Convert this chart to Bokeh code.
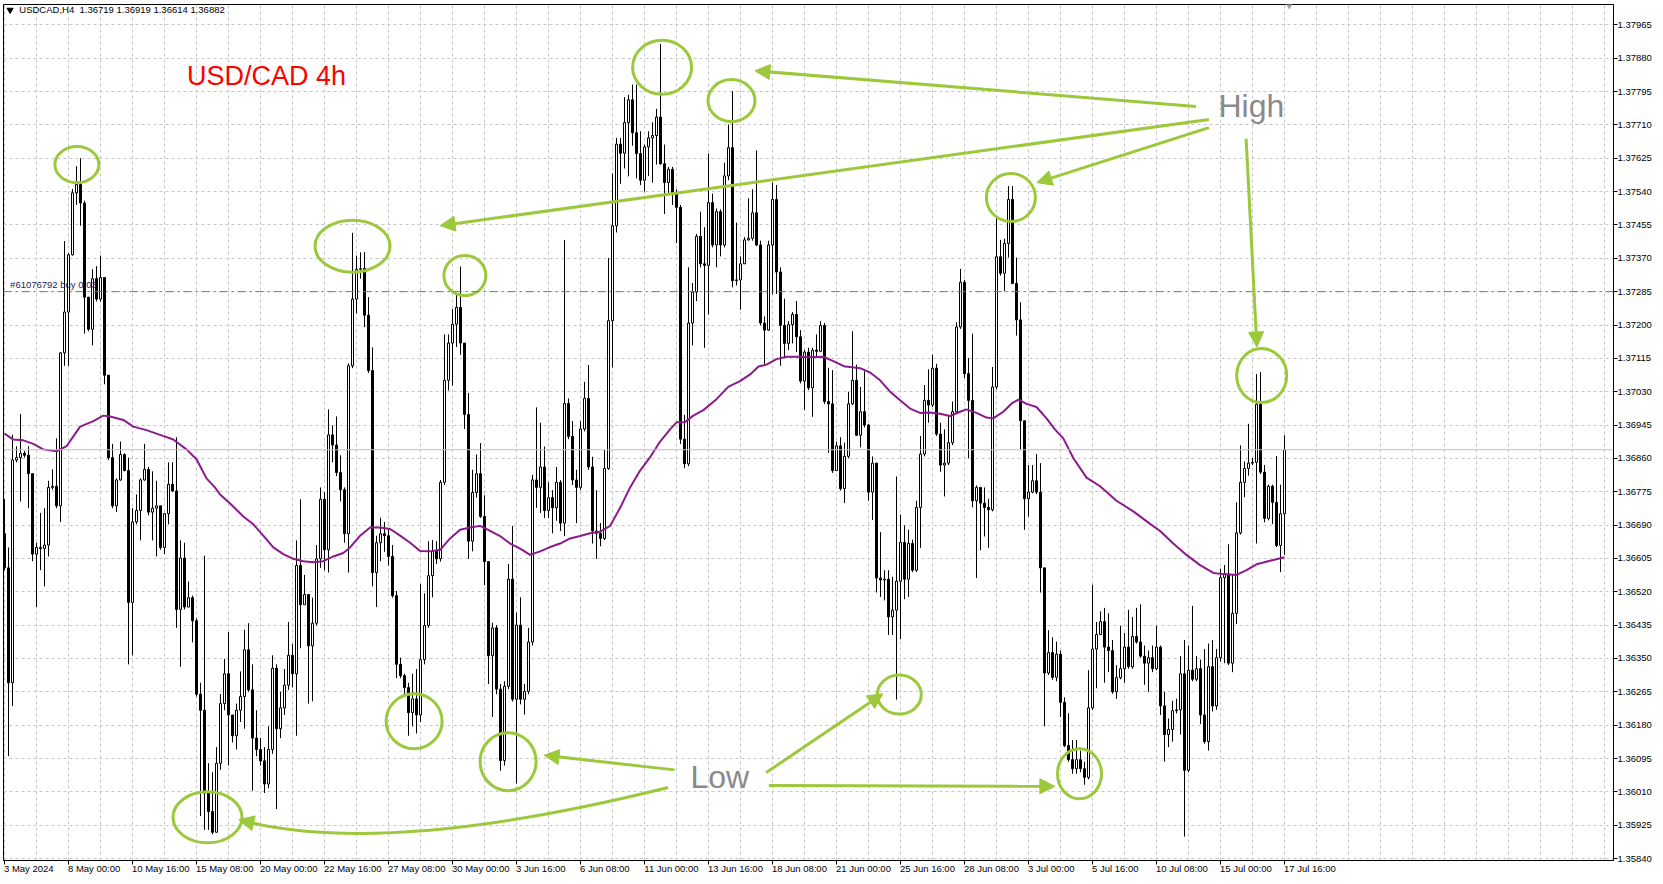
from bokeh.plotting import figure
from bokeh.models import (Range1d, FixedTicker, PrintfTickFormatter, Span, Label,
                          Arrow, NormalHead, LinearAxis)
from bokeh.embed import file_html
from bokeh.resources import INLINE

# ---------------- data (USDCAD H4) ----------------
first_open = 1.36668

closes = [
    1.36581, 1.36288, 1.36856, 1.36862, 1.36873, 1.36868, 1.36821, 1.36616, 1.36633, 1.36630,
    1.36639, 1.36786, 1.36789, 1.36739, 1.37129, 1.37233, 1.37379, 1.37537, 1.37558, 1.37511,
    1.37271, 1.37189, 1.37318, 1.37266, 1.37321, 1.37072, 1.36862, 1.36739, 1.36805, 1.36870,
    1.36829, 1.36493, 1.36698, 1.36727, 1.36805, 1.36832, 1.36723, 1.36733, 1.36739, 1.36633,
    1.36719, 1.36794, 1.36777, 1.36475, 1.36606, 1.36481, 1.36505, 1.36446, 1.36259, 1.36218,
    1.36007, 1.35960, 1.35907, 1.36083, 1.36235, 1.36311, 1.36206, 1.36153, 1.36218, 1.36253,
    1.36372, 1.36270, 1.36147, 1.36118, 1.36089, 1.36030, 1.36118, 1.36325, 1.36171, 1.36224,
    1.36282, 1.36358, 1.36311, 1.36587, 1.36487, 1.36513, 1.36382, 1.36440, 1.36604, 1.36756,
    1.36627, 1.36920, 1.36894, 1.36824, 1.36780, 1.36668, 1.37096, 1.37266, 1.37342, 1.37344,
    1.37225, 1.37084, 1.36569, 1.36645, 1.36668, 1.36663, 1.36610, 1.36510, 1.36335, 1.36306,
    1.36276, 1.36212, 1.36247, 1.36206, 1.36347, 1.36434, 1.36561, 1.36623, 1.36604, 1.36799,
    1.37059, 1.37154, 1.37202, 1.37245, 1.37154, 1.36972, 1.36649, 1.36773, 1.36821, 1.36712,
    1.36597, 1.36357, 1.36428, 1.36272, 1.36090, 1.36279, 1.36552, 1.36246, 1.36435, 1.36246,
    1.36266, 1.36392, 1.36805, 1.36786, 1.36838, 1.36727, 1.36760, 1.36734, 1.36799, 1.36695,
    1.37000, 1.36916, 1.36805, 1.36786, 1.36935, 1.37013, 1.36838, 1.36675, 1.36669, 1.36656,
    1.36834, 1.37211, 1.37453, 1.37661, 1.37638, 1.37716, 1.37774, 1.37690, 1.37637, 1.37569,
    1.37654, 1.37677, 1.37683, 1.37730, 1.37611, 1.37563, 1.37597, 1.37535, 1.37500, 1.36909,
    1.36846, 1.37205, 1.37284, 1.37426, 1.37356, 1.37352, 1.37512, 1.37404, 1.37489, 1.37404,
    1.37580, 1.37652, 1.37313, 1.37315, 1.37356, 1.37417, 1.37421, 1.37486, 1.37404, 1.37205,
    1.37187, 1.37404, 1.37520, 1.37335, 1.37199, 1.37153, 1.37201, 1.37227, 1.37170, 1.37057,
    1.37131, 1.37040, 1.37136, 1.37133, 1.37199, 1.37005, 1.36999, 1.36829, 1.36892, 1.36783,
    1.36865, 1.36999, 1.37059, 1.36919, 1.36979, 1.36945, 1.36774, 1.36848, 1.36555, 1.36550,
    1.36552, 1.36456, 1.36473, 1.36547, 1.36646, 1.36552, 1.36643, 1.36575, 1.36735, 1.36871,
    1.37008, 1.36996, 1.37090, 1.36922, 1.36843, 1.36848, 1.36900, 1.36979, 1.37195, 1.37309,
    1.37076, 1.37008, 1.36752, 1.36786, 1.36746, 1.36735, 1.36729, 1.37042, 1.37374, 1.37332,
    1.37408, 1.37520, 1.37306, 1.37213, 1.36956, 1.36757, 1.36774, 1.36803, 1.36774, 1.36581,
    1.36313, 1.36365, 1.36302, 1.36361, 1.36238, 1.36128, 1.36092, 1.36069, 1.36092, 1.36069,
    1.36047, 1.36224, 1.36374, 1.36411, 1.36444, 1.36379, 1.36370, 1.36265, 1.36301, 1.36324,
    1.36379, 1.36329, 1.36406, 1.36392, 1.36356, 1.36338, 1.36352, 1.36324, 1.36379, 1.36229,
    1.36156, 1.36169, 1.36217, 1.36219, 1.36311, 1.36065, 1.36320, 1.36297, 1.36324, 1.36206,
    1.36138, 1.36329, 1.36229, 1.36352, 1.36556, 1.36565, 1.36338, 1.36465, 1.36670, 1.36799,
    1.36834, 1.36848, 1.36850, 1.36998, 1.36825, 1.36707, 1.36789, 1.36748, 1.36638, 1.36719,
    1.36882,
]

highs = [
    1.36756, 1.36633, 1.36920, 1.36891, 1.36973, 1.36879, 1.36891, 1.36809, 1.36645, 1.36721,
    1.36733, 1.36803, 1.36832, 1.36911, 1.37131, 1.37414, 1.37383, 1.37547, 1.37605, 1.37625,
    1.37517, 1.37271, 1.37342, 1.37350, 1.37377, 1.37318, 1.36967, 1.36897, 1.36809, 1.36903,
    1.36873, 1.36862, 1.36733, 1.36768, 1.36809, 1.36897, 1.36838, 1.36827, 1.36803, 1.36739,
    1.36721, 1.36850, 1.36850, 1.36914, 1.36651, 1.36645, 1.36546, 1.36510, 1.36452, 1.36288,
    1.36612, 1.36083, 1.36060, 1.36124, 1.36259, 1.36349, 1.36417, 1.36206, 1.36235, 1.36317,
    1.36423, 1.36440, 1.36335, 1.36218, 1.36147, 1.36124, 1.36177, 1.36358, 1.36335, 1.36265,
    1.36323, 1.36443, 1.36387, 1.36651, 1.36756, 1.36563, 1.36487, 1.36505, 1.36639, 1.36786,
    1.36774, 1.36985, 1.36944, 1.36967, 1.36868, 1.36786, 1.37102, 1.37435, 1.37377, 1.37385,
    1.37386, 1.37271, 1.37143, 1.36663, 1.36709, 1.36698, 1.36680, 1.36639, 1.36522, 1.36352,
    1.36311, 1.36288, 1.36311, 1.36323, 1.36540, 1.36516, 1.36649, 1.36652, 1.36649, 1.36805,
    1.37176, 1.37176, 1.37241, 1.37280, 1.37349, 1.37150, 1.37027, 1.36831, 1.36870, 1.36899,
    1.36766, 1.36597, 1.36441, 1.36435, 1.36285, 1.36292, 1.36591, 1.36688, 1.36467, 1.36506,
    1.36285, 1.36428, 1.36818, 1.36990, 1.36951, 1.36890, 1.36799, 1.36779, 1.36838, 1.36805,
    1.37417, 1.37013, 1.36955, 1.36831, 1.36955, 1.37055, 1.37098, 1.36864, 1.36779, 1.36695,
    1.36881, 1.37371, 1.37586, 1.37677, 1.37677, 1.37781, 1.37787, 1.37813, 1.37813, 1.37694,
    1.37660, 1.37694, 1.37717, 1.37751, 1.37916, 1.37660, 1.37603, 1.37603, 1.37546, 1.37506,
    1.36971, 1.37347, 1.37307, 1.37432, 1.37489, 1.37449, 1.37637, 1.37535, 1.37497, 1.37495,
    1.37614, 1.37711, 1.37796, 1.37461, 1.37375, 1.37424, 1.37523, 1.37546, 1.37645, 1.37415,
    1.37222, 1.37415, 1.37563, 1.37557, 1.37347, 1.37267, 1.37210, 1.37233, 1.37261, 1.37187,
    1.37136, 1.37142, 1.37142, 1.37176, 1.37210, 1.37205, 1.37091, 1.37085, 1.36903, 1.36914,
    1.36900, 1.37030, 1.37184, 1.37099, 1.37042, 1.37082, 1.36948, 1.36865, 1.36848, 1.36672,
    1.36575, 1.36575, 1.36558, 1.36814, 1.36717, 1.36689, 1.36678, 1.36653, 1.36752, 1.36917,
    1.37047, 1.37087, 1.37124, 1.37101, 1.36951, 1.36934, 1.36968, 1.37005, 1.37207, 1.37343,
    1.37315, 1.37116, 1.37178, 1.36791, 1.36780, 1.36786, 1.36757, 1.37093, 1.37474, 1.37417,
    1.37420, 1.37554, 1.37554, 1.37372, 1.37258, 1.36956, 1.36843, 1.36843, 1.36871, 1.36848,
    1.36581, 1.36422, 1.36404, 1.36393, 1.36370, 1.36251, 1.36210, 1.36142, 1.36142, 1.36115,
    1.36087, 1.36320, 1.36538, 1.36443, 1.36470, 1.36479, 1.36465, 1.36397, 1.36333, 1.36433,
    1.36415, 1.36474, 1.36456, 1.36479, 1.36488, 1.36383, 1.36370, 1.36383, 1.36433, 1.36383,
    1.36265, 1.36197, 1.36242, 1.36247, 1.36356, 1.36397, 1.36383, 1.36484, 1.36356, 1.36347,
    1.36374, 1.36388, 1.36397, 1.36374, 1.36579, 1.36588, 1.36641, 1.36565, 1.36748, 1.36893,
    1.36852, 1.36948, 1.36861, 1.37075, 1.37080, 1.36843, 1.36793, 1.36793, 1.36866, 1.36793,
    1.36919,
]

lows = [
    1.36575, 1.36101, 1.36229, 1.36850, 1.36750, 1.36862, 1.36733, 1.36598, 1.36481, 1.36575,
    1.36534, 1.36610, 1.36780, 1.36733, 1.36698, 1.37096, 1.37096, 1.37377, 1.37506, 1.37453,
    1.37178, 1.37184, 1.37148, 1.37260, 1.37260, 1.37049, 1.36856, 1.36733, 1.36723, 1.36803,
    1.36827, 1.36335, 1.36358, 1.36692, 1.36651, 1.36803, 1.36715, 1.36651, 1.36610, 1.36627,
    1.36616, 1.36692, 1.36774, 1.36428, 1.36329, 1.36475, 1.36481, 1.36391, 1.36253, 1.35948,
    1.35913, 1.35913, 1.35902, 1.35907, 1.36066, 1.36218, 1.36077, 1.36136, 1.36118, 1.36188,
    1.36171, 1.36265, 1.36013, 1.36101, 1.36077, 1.36007, 1.36019, 1.36107, 1.35966, 1.36147,
    1.36206, 1.36270, 1.36276, 1.36153, 1.36376, 1.36487, 1.36235, 1.36241, 1.36434, 1.36581,
    1.36575, 1.36569, 1.36850, 1.36815, 1.36750, 1.36645, 1.36569, 1.37090, 1.37230, 1.37318,
    1.37195, 1.37078, 1.36534, 1.36481, 1.36598, 1.36622, 1.36587, 1.36505, 1.36300, 1.36300,
    1.36253, 1.36153, 1.36177, 1.36159, 1.36188, 1.36335, 1.36428, 1.36506, 1.36591, 1.36597,
    1.36792, 1.37033, 1.37046, 1.37144, 1.37124, 1.36935, 1.36604, 1.36623, 1.36760, 1.36708,
    1.36537, 1.36285, 1.36201, 1.36259, 1.36064, 1.36077, 1.36272, 1.36240, 1.36031, 1.36233,
    1.36207, 1.36259, 1.36383, 1.36734, 1.36721, 1.36708, 1.36708, 1.36669, 1.36701, 1.36675,
    1.36662, 1.36909, 1.36792, 1.36695, 1.36779, 1.36929, 1.36831, 1.36643, 1.36604, 1.36636,
    1.36652, 1.36831, 1.37092, 1.37436, 1.37560, 1.37599, 1.37579, 1.37657, 1.37574, 1.37557,
    1.37540, 1.37580, 1.37563, 1.37609, 1.37609, 1.37483, 1.37535, 1.37506, 1.37409, 1.36897,
    1.36835, 1.36840, 1.37148, 1.37261, 1.37347, 1.37142, 1.37227, 1.37398, 1.37347, 1.37375,
    1.37398, 1.37569, 1.37296, 1.37301, 1.37239, 1.37358, 1.37415, 1.37415, 1.37401, 1.37199,
    1.37096, 1.37185, 1.37279, 1.37279, 1.37096, 1.37119, 1.37136, 1.37153, 1.37131, 1.37051,
    1.36983, 1.37034, 1.36966, 1.37119, 1.37131, 1.36999, 1.36874, 1.36823, 1.36829, 1.36778,
    1.36746, 1.36860, 1.36996, 1.36917, 1.36888, 1.36939, 1.36752, 1.36703, 1.36518, 1.36507,
    1.36498, 1.36410, 1.36410, 1.36245, 1.36399, 1.36501, 1.36507, 1.36570, 1.36570, 1.36632,
    1.36865, 1.36951, 1.36991, 1.36917, 1.36826, 1.36763, 1.36843, 1.36894, 1.36974, 1.37190,
    1.37065, 1.36860, 1.36735, 1.36555, 1.36626, 1.36661, 1.36632, 1.36725, 1.37036, 1.37326,
    1.37286, 1.37372, 1.37304, 1.37173, 1.36882, 1.36678, 1.36712, 1.36771, 1.36769, 1.36518,
    1.36177, 1.36308, 1.36296, 1.36292, 1.36201, 1.36124, 1.36087, 1.36056, 1.36056, 1.36060,
    1.36028, 1.36042, 1.36219, 1.36274, 1.36438, 1.36288, 1.36315, 1.36260, 1.36247, 1.36297,
    1.36288, 1.36324, 1.36324, 1.36388, 1.36352, 1.36283, 1.36265, 1.36315, 1.36320, 1.36206,
    1.36087, 1.36124, 1.36138, 1.36210, 1.36156, 1.35896, 1.36060, 1.36292, 1.36292, 1.36183,
    1.36133, 1.36115, 1.36215, 1.36219, 1.36342, 1.36338, 1.36333, 1.36315, 1.36438, 1.36666,
    1.36761, 1.36816, 1.36843, 1.36643, 1.36820, 1.36697, 1.36702, 1.36693, 1.36634, 1.36570,
    1.36614,
]

# moving average (purple line) sampled along the chart: bar position, value
ma_bars = [0, 2.2, 4.7, 7.2, 9.7, 13, 15.5, 18.9, 22.2, 24.7, 26.4, 29.7, 32.2, 35.5, 38.9,
           42.2, 45.5, 48, 50.5, 52.6, 53.9, 56.4, 59.7, 62.2, 64.7, 67.2, 69.7, 72.2, 74.7,
           77.2, 79.7, 82.2, 84.7, 86.4, 88.9, 91.4, 93.9, 96.4, 98.9, 101.4, 103.9, 106.4,
           108.9, 111.4, 113.9, 116.4, 118.9, 121.4, 123.9, 126.4, 128.9, 131.4, 133.9, 136.4,
           138.9, 141.4, 143.9, 146.4, 148.9, 151.4, 153.9, 156.4, 158.9, 161.4, 163.9, 166.4,
           168, 170.1, 172.2, 174.7, 178, 181, 183.9, 186.4, 188.5, 190.5, 193, 195.5, 198,
           201.4, 204.7, 207.2, 210.1, 211.4, 213.9, 216.4, 218.9, 221.4, 223.9, 226.4, 228.9,
           231.4, 233.9, 236.4, 238.9, 240.5, 243, 245.5, 247.2, 249.7, 251.8, 253.5, 255.5,
           258, 260.5, 262.6, 264.7, 267.2, 270.5, 273.9, 278, 282.2, 286.4, 288.9, 292.2,
           295.5, 298.9, 302.2, 304.7, 308, 310.5, 313, 316.4, 320]
ma_vals = [1.36923, 1.36908, 1.36906, 1.36897, 1.36883, 1.36878, 1.36891, 1.36941, 1.36955,
           1.36969, 1.36967, 1.36958, 1.36941, 1.36932, 1.36920, 1.36908, 1.36883, 1.36858,
           1.36809, 1.36786, 1.36768, 1.36745, 1.36712, 1.36692, 1.36663, 1.36633, 1.36616,
           1.36604, 1.36598, 1.36595, 1.36598, 1.36610, 1.36619, 1.36633, 1.36663, 1.36684,
           1.36684, 1.36680, 1.36663, 1.36645, 1.36624, 1.36623, 1.36627, 1.36656, 1.36678,
           1.36684, 1.36688, 1.36675, 1.36662, 1.36643, 1.36630, 1.36614, 1.36623, 1.36634,
           1.36643, 1.36656, 1.36662, 1.36669, 1.36673, 1.36688, 1.36734, 1.36786, 1.36829,
           1.36863, 1.36903, 1.36934, 1.36952, 1.36952, 1.36969, 1.36983, 1.37011, 1.37043,
           1.37057, 1.37074, 1.37094, 1.37099, 1.37113, 1.37119, 1.37119, 1.37118, 1.37119,
           1.37108, 1.37094, 1.37093, 1.37090, 1.37079, 1.37059, 1.37030, 1.37008, 1.36987,
           1.36976, 1.36977, 1.36974, 1.36968, 1.36979, 1.36985, 1.36976, 1.36964, 1.36962,
           1.36979, 1.37000, 1.37010, 1.36999, 1.36991, 1.36962, 1.36934, 1.36911, 1.36861,
           1.36811, 1.36789, 1.36752, 1.36725, 1.36693, 1.36675, 1.36643, 1.36614, 1.36588,
           1.36568, 1.36565, 1.36563, 1.36575, 1.36590, 1.36599, 1.36608]

price_ticks = [1.35840, 1.35925, 1.36010, 1.36095, 1.36180, 1.36265, 1.36350, 1.36435,
               1.36520, 1.36605, 1.36690, 1.36775, 1.36860, 1.36945, 1.37030, 1.37115,
               1.37200, 1.37285, 1.37370, 1.37455, 1.37540, 1.37625, 1.37710, 1.37795,
               1.37880, 1.37965]

time_tick_bars = [0, 16, 32, 48, 64, 80, 96, 112, 128, 144, 160, 176, 192, 208, 224, 240,
                  256, 272, 288, 304, 320]
time_labels = ["3 May 2024", "8 May 00:00", "10 May 16:00", "15 May 08:00", "20 May 00:00",
               "22 May 16:00", "27 May 08:00", "30 May 00:00", "3 Jun 16:00", "6 Jun 08:00",
               "11 Jun 00:00", "13 Jun 16:00", "18 Jun 08:00", "21 Jun 00:00", "25 Jun 16:00",
               "28 Jun 08:00", "3 Jul 00:00", "5 Jul 16:00", "10 Jul 08:00", "15 Jul 00:00",
               "17 Jul 16:00"]
grid_bars = list(range(0, 401, 8))

order_price = 1.37285
last_price = 1.36882
header = "USDCAD,H4 \u00a01.36719 1.36919 1.36614 1.36882"

# annotation marks (bar position, price) --------------------------------
circle_x = [18.1, 87.0, 115.1, 164.4, 181.75, 251.6, 314.3, 50.75, 102.4, 125.9, 223.7, 268.75]
circle_y = [1.37609, 1.37401, 1.37326, 1.37857, 1.37772, 1.37525, 1.37071,
            1.35945, 1.36190, 1.36087, 1.36258, 1.36056]
circle_w = [44, 75, 42, 59, 47, 49, 50, 69, 56, 56, 44, 44]
circle_h = [36, 52, 40, 54, 42, 48, 54, 51, 55, 58, 39, 50]

# straight arrows: (x0, y0, x1, y1)
arrows = [
    (297.9, 1.37757, 187.6, 1.37848),
    (301.1, 1.37724, 108.9, 1.37453),
    (301.1, 1.37703, 258.1, 1.37563),
    (310.4, 1.37675, 313.1, 1.37144),
    (190.4, 1.36059, 219.6, 1.36260),
    (167.5, 1.36066, 134.9, 1.36103),
    (191.1, 1.36026, 262.6, 1.36024),
]

# ---------------- figure ----------------
FONT = "Liberation Sans"
FW, FH = 1610, 856
BAR_PX = 4.0
X0 = -0.25
p = figure(frame_width=FW, frame_height=FH,
           x_range=Range1d(X0, X0 + FW / BAR_PX),
           y_range=Range1d(1.35835, 1.38017),
           y_axis_location="right", toolbar_location=None, output_backend="svg",
           min_border_left=3, min_border_top=4, min_border_bottom=24, min_border_right=50,
           background_fill_color="white", border_fill_color="white",
           outline_line_color="black", outline_line_width=1)

# grid
p.xgrid.ticker = FixedTicker(ticks=grid_bars)
for g in (p.xgrid, p.ygrid):
    g.grid_line_color = "#C6C6C6"
    g.grid_line_dash = "3 3"
    g.grid_line_width = 1

# price axis (right)
p.yaxis.ticker = FixedTicker(ticks=price_ticks)
p.yaxis.formatter = PrintfTickFormatter(format="%.5f")
p.yaxis.major_tick_out = 4
p.yaxis.major_tick_in = 0
p.yaxis.minor_tick_line_color = None
p.yaxis.axis_line_color = "black"
p.yaxis.major_tick_line_color = "black"
p.yaxis.major_label_text_font = FONT
p.yaxis.major_label_text_font_size = "9.5px"
p.yaxis.major_label_text_color = "black"
p.yaxis.major_label_standoff = 0

# time axis: tick marks at the bar positions ...
p.xaxis.ticker = FixedTicker(ticks=time_tick_bars, minor_ticks=[])
p.xaxis.major_tick_out = 4
p.xaxis.major_tick_in = 0
p.xaxis.minor_tick_line_color = None
p.xaxis.axis_line_color = "black"
p.xaxis.major_tick_line_color = "black"
p.xaxis.major_label_standoff = 0
p.xaxis.major_label_text_font_size = "1px"
p.xaxis.major_label_text_color = None

# ... and labels written to the right of each tick (MetaTrader style)
EM = {"0": .556, "1": .556, "2": .556, "3": .556, "4": .556, "5": .556, "6": .556,
      "7": .556, "8": .556, "9": .556, " ": .278, ":": .278, "M": .833, "a": .556,
      "y": .5, "J": .5, "u": .556, "n": .556, "l": .222}
LBL_PX = 9.5
centers, overrides = [], {}
for pos, txt in zip(time_tick_bars, time_labels):
    w = sum(EM.get(ch, .556) for ch in txt) * LBL_PX
    c = round(pos + (w / 2.0 - 0.5) / BAR_PX, 3)
    centers.append(c)
    overrides[c] = txt
lab_axis = LinearAxis(ticker=FixedTicker(ticks=centers, minor_ticks=[]),
                      major_label_overrides=overrides,
                      axis_line_color=None, major_tick_line_color=None,
                      minor_tick_line_color=None, major_tick_out=0, major_tick_in=0,
                      major_label_standoff=-2, major_label_text_font=FONT,
                      major_label_text_font_size="9.5px", major_label_text_color="black")
p.add_layout(lab_axis, "below")

# lines
p.add_layout(Span(location=last_price, dimension="width", line_color="#C0C0C0",
                  line_width=1))
p.add_layout(Span(location=order_price, dimension="width", line_color="#3F9E3F",
                  line_width=1, line_dash="8 4 2 4"))

# candles
n = len(closes)
idx = list(range(n))
opens = [first_open] + closes[:-1]
tops = [max(o, c) for o, c in zip(opens, closes)]
bots = [min(o, c) for o, c in zip(opens, closes)]
his = [max(h, t) for h, t in zip(highs, tops)]
los = [min(l, b) for l, b in zip(lows, bots)]
fills = ["white" if c >= o else "black" for o, c in zip(opens, closes)]

p.segment(x0=idx, y0=his, x1=idx, y1=los, line_color="black", line_width=1)
p.vbar(x=idx, width=0.5, top=tops, bottom=bots, fill_color=fills,
       line_color="black", line_width=1)

# moving average
p.line(ma_bars, ma_vals, line_color="#8B1A8B", line_width=2)

# texts inside chart
p.scatter([1.4], [1.38003], marker="inverted_triangle", size=6, color="black")
p.scatter([321.2], [1.38019], marker="inverted_triangle", size=9, color="#A8A8A8")
p.add_layout(Label(x=3.7, y=1.38003, text=header, text_baseline="middle",
                   text_font=FONT, text_font_size="9.5px", text_color="black"))
p.add_layout(Label(x=1.4, y=order_price, y_offset=2, text="#61076792 buy 0.03",
                   text_baseline="bottom", text_font=FONT,
                   text_font_size="9.5px", text_color="#1E1E5A"))
p.add_layout(Label(x=45.6, y=1.37834, text="USD/CAD 4h", text_baseline="middle",
                   text_font=FONT, text_font_size="27px", text_color="#FF0000"))

# annotations
GREEN = "#9CC83B"
p.ellipse(x=circle_x, y=circle_y, width=circle_w, height=circle_h,
          width_units="screen", height_units="screen",
          fill_color=None, line_color=GREEN, line_width=3)
for x0, y0, x1, y1 in arrows:
    p.add_layout(Arrow(x_start=x0, y_start=y0, x_end=x1, y_end=y1,
                       line_color=GREEN, line_width=3,
                       end=NormalHead(size=15, fill_color=GREEN, line_color=GREEN)))
p.quadratic(x0=[165.9], y0=[1.36021], x1=[60.4], y1=[1.35934], cx=[96.6], cy=[1.35845],
            line_color=GREEN, line_width=3)
p.add_layout(Arrow(x_start=63.9, y_start=1.35926, x_end=58.6, y_end=1.35939,
                   line_color=GREEN, line_width=3,
                   end=NormalHead(size=15, fill_color=GREEN, line_color=GREEN)))

p.add_layout(Label(x=303.5, y=1.37758, text="High", text_baseline="middle",
                   text_font=FONT, text_font_size="32px", text_color="#8A8A8A"))
p.add_layout(Label(x=171.5, y=1.36049, text="Low", text_baseline="middle",
                   text_font=FONT, text_font_size="32px", text_color="#8A8A8A"))

open("out.html", "w").write(file_html(p, INLINE))
